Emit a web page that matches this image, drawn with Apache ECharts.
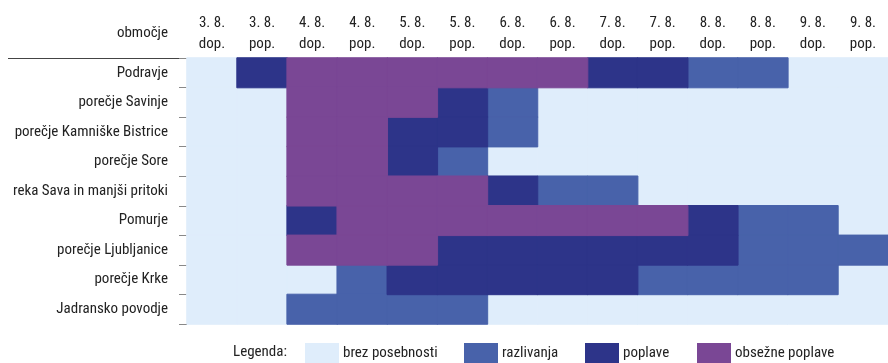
<!DOCTYPE html>
<html>
<head>
<meta charset="utf-8">
<script src="https://cdn.jsdelivr.net/npm/echarts@6/dist/echarts.min.js"></script>
<style>
  html, body { margin: 0; padding: 0; background: #fff; }
  #chart { width: 888px; height: 363px; }
</style>
</head>
<body>
<div id="chart"></div>
<script>
// casovna obdobja (stolpci)
const periods = ['3. 8.\ndop.', '3. 8.\npop.', '4. 8.\ndop.', '4. 8.\npop.', '5. 8.\ndop.', '5. 8.\npop.',
  '6. 8.\ndop.', '6. 8.\npop.', '7. 8.\ndop.', '7. 8.\npop.', '8. 8.\ndop.', '8. 8.\npop.',
  '9. 8.\ndop.', '9. 8.\npop.'];
// obmocja (vrstice)
const regions = ['Podravje', 'porečje Savinje', 'porečje Kamniške Bistrice', 'porečje Sore',
  'reka Sava in manjši pritoki', 'Pomurje', 'porečje Ljubljanice', 'porečje Krke', 'Jadransko povodje'];
// stanja: 0 brez posebnosti, 1 razlivanja, 2 poplave, 3 obsežne poplave
const levelNames = ['brez posebnosti', 'razlivanja', 'poplave', 'obsežne poplave'];
const levelColors = ['#dfedfb', '#4862aa', '#2d3489', '#7a4795'];
const states = [
  [0, 2, 3, 3, 3, 3, 3, 3, 2, 2, 1, 1, 0, 0],
  [0, 0, 3, 3, 3, 2, 1, 0, 0, 0, 0, 0, 0, 0],
  [0, 0, 3, 3, 2, 2, 1, 0, 0, 0, 0, 0, 0, 0],
  [0, 0, 3, 3, 2, 1, 0, 0, 0, 0, 0, 0, 0, 0],
  [0, 0, 3, 3, 3, 3, 2, 1, 1, 0, 0, 0, 0, 0],
  [0, 0, 2, 3, 3, 3, 3, 3, 3, 3, 2, 1, 1, 0],
  [0, 0, 3, 3, 3, 2, 2, 2, 2, 2, 2, 1, 1, 1],
  [0, 0, 0, 1, 2, 2, 2, 2, 2, 1, 1, 1, 1, 0],
  [0, 0, 1, 1, 1, 1, 0, 0, 0, 0, 0, 0, 0, 0]
];

const font = "'Roboto Condensed', 'Liberation Sans Narrow', 'Arial Narrow', Roboto, sans-serif";

// ena serija na stanje
let seriesList = [];
for (let k = 0; k < levelNames.length; k++) {
  let pts = [];
  for (let r = 0; r < regions.length; r++) {
    for (let c = 0; c < periods.length; c++) {
      if (states[r][c] === k) pts.push([c, r, k]);
    }
  }
  seriesList.push({
    name: levelNames[k],
    type: 'heatmap',
    data: pts,
    itemStyle: { color: levelColors[k], borderColor: levelColors[k], borderWidth: 1 },
    emphasis: { disabled: true }
  });
}

// legenda - vsak element posebej
const legendLeft = [305, 464, 585, 697];
let legends = levelNames.map((n, i) => ({
  data: [n],
  left: legendLeft[i],
  top: 343,
  padding: 0,
  itemWidth: 32,
  itemHeight: 19,
  itemGap: 0,
  icon: 'rect',
  textStyle: { color: '#222', fontSize: 15, fontFamily: font },
  selectedMode: false
}));

let chart = echarts.init(document.getElementById('chart'));
const option = {
  animation: false,
  textStyle: { fontFamily: font },
  grid: { left: 187, right: 0, top: 58, bottom: 39 },
  legend: legends,
  xAxis: {
    type: 'category',
    position: 'top',
    data: periods,
    axisLine: { lineStyle: { color: '#444', width: 1 } },
    axisTick: { length: 5, lineStyle: { color: '#444' } },
    axisLabel: { color: '#222', fontSize: 15, lineHeight: 21, margin: 3, fontFamily: font },
    splitLine: { show: false }
  },
  yAxis: {
    type: 'category',
    inverse: true,
    data: regions,
    axisLine: { show: false },
    axisTick: { show: true, length: 8, lineStyle: { color: '#888' } },
    axisLabel: { color: '#222', fontSize: 15, margin: 19, fontFamily: font },
    splitLine: { show: false }
  },
  graphic: [
    {
      type: 'line',
      shape: { x1: 8, y1: 58.5, x2: 187, y2: 58.5 },
      style: { stroke: '#444', lineWidth: 1 }
    },
    {
      type: 'text',
      right: 720,
      top: 26,
      style: { text: 'območje', fill: '#222', font: '15px ' + font }
    },
    {
      type: 'text',
      left: 233,
      top: 345,
      style: { text: 'Legenda:', fill: '#222', font: '15px ' + font }
    }
  ],
  series: seriesList
};
chart.setOption(option);
window.addEventListener('resize', function () {
  chart.resize();
});
</script>
</body>
</html>
